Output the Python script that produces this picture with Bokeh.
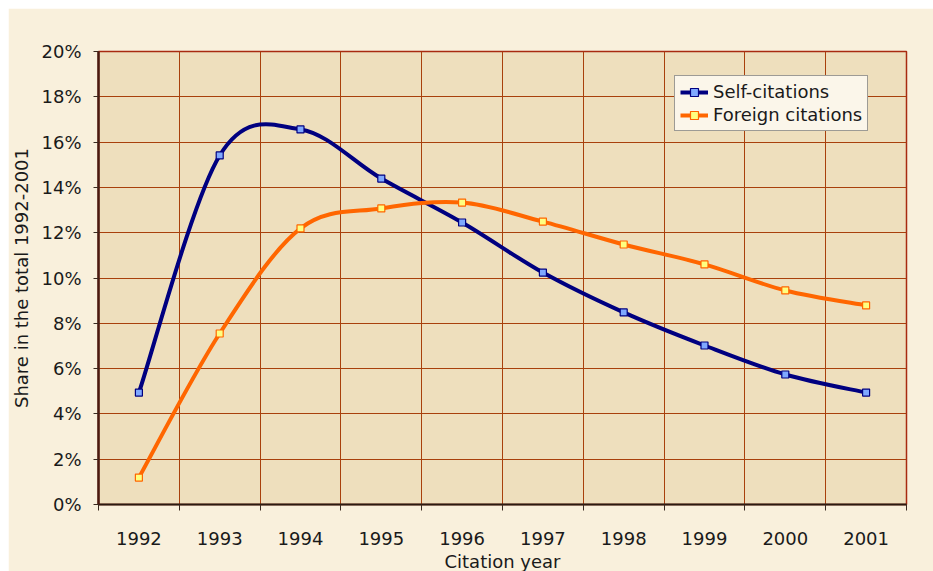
from bokeh.plotting import figure
from bokeh.models import (FixedTicker, Range1d, Legend, LegendItem, ColumnDataSource,
                          PrintfTickFormatter, Spacer)
from bokeh.layouts import column, row
from bokeh.embed import file_html
from bokeh.resources import INLINE

years = ["1992", "1993", "1994", "1995", "1996", "1997", "1998", "1999", "2000", "2001"]
self_citations = [4.94, 15.41, 16.56, 14.39, 12.45, 10.24, 8.48, 7.02, 5.74, 4.94]
foreign_citations = [1.19, 7.55, 12.19, 13.07, 13.33, 12.49, 11.48, 10.60, 9.45, 8.79]
y_ticks = [0, 2, 4, 6, 8, 10, 12, 14, 16, 18, 20]

FONT = "DejaVu Sans"
NAN = float("nan")

p = figure(frame_width=808, frame_height=453, output_backend="svg", toolbar_location=None,
           x_range=Range1d(0, len(years)), y_range=Range1d(0, 20),
           min_border_left=89, min_border_right=28, min_border_top=43, min_border_bottom=67)

p.background_fill_color = "#eedfbd"
p.border_fill_color = "#f9f0dc"
p.outline_line_color = "#a82a10"
p.outline_line_width = 1.5

# x axis: labels at category centers, tick marks at boundaries
centers = [i + 0.5 for i in range(len(years))]
bounds = list(range(len(years) + 1))
p.xaxis.ticker = FixedTicker(ticks=centers, minor_ticks=bounds)
p.xaxis.major_label_overrides = {c: y for c, y in zip(centers, years)}
p.xaxis.major_tick_out = 0
p.xaxis.major_tick_in = 0
p.xaxis.minor_tick_out = 6
p.xaxis.minor_tick_in = 0
p.xaxis.minor_tick_line_color = "#3a2a20"
p.xaxis.axis_line_color = "#2a1a10"
p.xaxis.axis_line_width = 2
p.xaxis.major_label_standoff = 21
p.xaxis.axis_label = "Citation year"
p.xaxis.axis_label_standoff = 3

p.yaxis.ticker = FixedTicker(ticks=y_ticks)
p.yaxis.formatter = PrintfTickFormatter(format="%d%%")
p.yaxis.major_tick_out = 5
p.yaxis.major_tick_in = 0
p.yaxis.minor_tick_line_color = None
p.yaxis.axis_line_color = "#4a1a10"
p.yaxis.axis_line_width = 2.5
p.yaxis.major_tick_line_color = "#3a2a20"
p.yaxis.major_label_standoff = 12
p.yaxis.axis_label = "Share in the total 1992-2001"
p.yaxis.axis_label_standoff = 6

for ax in (p.xaxis, p.yaxis):
    ax.major_label_text_font = FONT
    ax.major_label_text_font_size = "18px"
    ax.major_label_text_color = "#1a1a1a"
    ax.axis_label_text_font = FONT
    ax.axis_label_text_font_size = "18px"
    ax.axis_label_text_font_style = "normal"
    ax.axis_label_text_color = "#1a1a1a"

p.xgrid.ticker = FixedTicker(ticks=bounds)
p.ygrid.ticker = FixedTicker(ticks=y_ticks)
for g in (p.xgrid, p.ygrid):
    g.grid_line_color = "#a8400c"
    g.grid_line_width = 1


def bezier_source(ys):
    xs = centers
    n = len(xs)
    d = dict(x0=[], y0=[], x1=[], y1=[], cx0=[], cy0=[], cx1=[], cy1=[])
    for i in range(n - 1):
        xm, ym = (xs[i - 1], ys[i - 1]) if i > 0 else (xs[i], ys[i])
        xp, yp = (xs[i + 2], ys[i + 2]) if i + 2 < n else (xs[i + 1], ys[i + 1])
        d["x0"].append(xs[i]); d["y0"].append(ys[i])
        d["x1"].append(xs[i + 1]); d["y1"].append(ys[i + 1])
        d["cx0"].append(xs[i] + (xs[i + 1] - xm) / 6)
        d["cy0"].append(ys[i] + (ys[i + 1] - ym) / 6)
        d["cx1"].append(xs[i + 1] - (xp - xs[i]) / 6)
        d["cy1"].append(ys[i + 1] - (yp - ys[i]) / 6)
    return ColumnDataSource(d)


series = [
    ("Self-citations", self_citations, "#000080", "#7fa8ff"),
    ("Foreign citations", foreign_citations, "#ff6600", "#ffff80"),
]
items = []
for name, ys, col, fill in series:
    p.bezier(x0="x0", y0="y0", x1="x1", y1="y1", cx0="cx0", cy0="cy0", cx1="cx1", cy1="cy1",
             source=bezier_source(ys), line_color=col, line_width=4)
    p.scatter(x=centers, y=ys, marker="square", size=7, fill_color=fill,
              line_color=col, line_width=1.2)
    # legend-only renderers (no visible data)
    lr = p.line(x=[NAN, NAN], y=[NAN, NAN], line_color=col, line_width=4)
    sr = p.scatter(x=[NAN], y=[NAN], marker="square", size=7, fill_color=fill,
                   line_color=col, line_width=1.2)
    items.append(LegendItem(label=name, renderers=[lr, sr], index=0))

legend = Legend(items=items, location=(576, 373))
legend.label_text_font = FONT
legend.label_text_font_size = "18px"
legend.label_text_color = "#1a1a1a"
legend.background_fill_color = "#fbf6ea"
legend.background_fill_alpha = 1
legend.border_line_color = "#404040"
legend.border_line_width = 1
legend.glyph_width = 28
legend.glyph_height = 20
legend.spacing = 2
legend.padding = 5
legend.margin = 0
legend.label_standoff = 5
p.add_layout(legend, "center")

layout = column(Spacer(height=8), row(Spacer(width=8), p))
open("out.html", "w").write(file_html(layout, INLINE))
